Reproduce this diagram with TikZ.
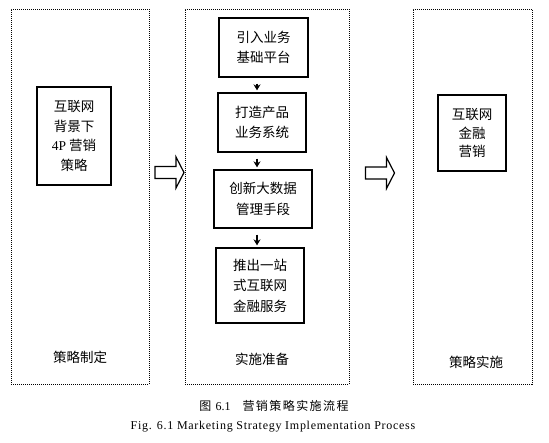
\documentclass[tikz,border=0pt]{standalone}
\usepackage{fontspec}
\setmainfont{Liberation Serif}
\newfontfamily\cjk{Noto Sans CJK SC}
\newfontfamily\cjkcap[LetterSpace=12]{Noto Sans CJK SC}
\usetikzlibrary{arrows.meta}
\tikzset{
  every picture/.style={line width=1pt},
  stage/.style={draw, dash pattern=on 1pt off 1pt, line width=0.9pt, inner sep=0pt, minimum height=375pt, minimum width=#1},
  item/.style={draw, line width=1.3pt, align=center, inner sep=0pt, font=\cjk\fontsize{13.5pt}{20.5pt}\selectfont},
  tag/.style={font=\cjk\fontsize{13.5pt}{16pt}\selectfont},
  flow/.style={-{Stealth[length=6pt, width=7pt]}, line width=1.2pt, shorten <=6pt, shorten >=2pt},
  bigarrow/.pic={\draw[line width=1.2pt, miter limit=10]
    (0,-6) -- (21,-6) -- (21,-15.5) -- (29,0) -- (21,15.5) -- (21,6) -- (0,6) -- cycle;},
}

\begin{document}
\begin{tikzpicture}[x=1pt, y=-1pt]
  \useasboundingbox (0,0) rectangle (549,442);
  % three stages
  \node[stage=138pt] (plan) at (80,196.5) {};
  \node[stage=164pt] (prep) at (267,196.5) {};
  \node[stage=119pt] (impl) at (472.5,196.5) {};
  \node[tag] (tplan) at (80,357) {策略制定};
  \node[tag] (tprep) at (262,359) {实施准备};
  \node[tag] (timpl) at (476,362) {策略实施};
  % contents
  \node[item, minimum width=74pt, minimum height=98pt, font=\cjk\fontsize{13.5pt}{19.5pt}\selectfont] (p4) at (74,136)
    {互联网\\背景下\\{\rmfamily 4P} 营销\\策略};
  \node[item, minimum width=89pt, minimum height=59pt] (s1) at (263.5,47.5) {引入业务\\基础平台};
  \node[item, minimum width=88pt, minimum height=59pt] (s2) at (262,122.5) {打造产品\\业务系统};
  \node[item, minimum width=98pt, minimum height=58pt] (s3) at (263,199) {创新大数据\\管理手段};
  \node[item, minimum width=88pt, minimum height=75pt] (s4) at (260,285.5) {推出一站\\式互联网\\金融服务};
  \node[item, minimum width=68pt, minimum height=76pt, font=\cjk\fontsize{13.5pt}{18.5pt}\selectfont] (fin) at (472,133)
    {互联网\\金融\\营销};
  \coordinate (ax) at (257,0);
  \draw[flow] (s1.south -| ax) -- (s2.north -| ax);
  \draw[flow] (s2.south -| ax) -- (s3.north -| ax);
  \draw[flow] (s3.south -| ax) -- (s4.north -| ax);
  % between stages
  \pic (go1) at (155,172.5) {bigarrow};
  \pic (go2) at (365.5,173) {bigarrow};
  % caption
  \node[font=\cjkcap\fontsize{12pt}{14pt}\selectfont] (cap) at (274,406) {图 {\rmfamily 6.1}\quad 营销策略实施流程};
  \node[font=\fontsize{12pt}{14pt}\selectfont\addfontfeature{LetterSpace=6}] (capen) at (273,427)
    {Fig. 6.1 Marketing Strategy Implementation Process};
\end{tikzpicture}
\end{document}
